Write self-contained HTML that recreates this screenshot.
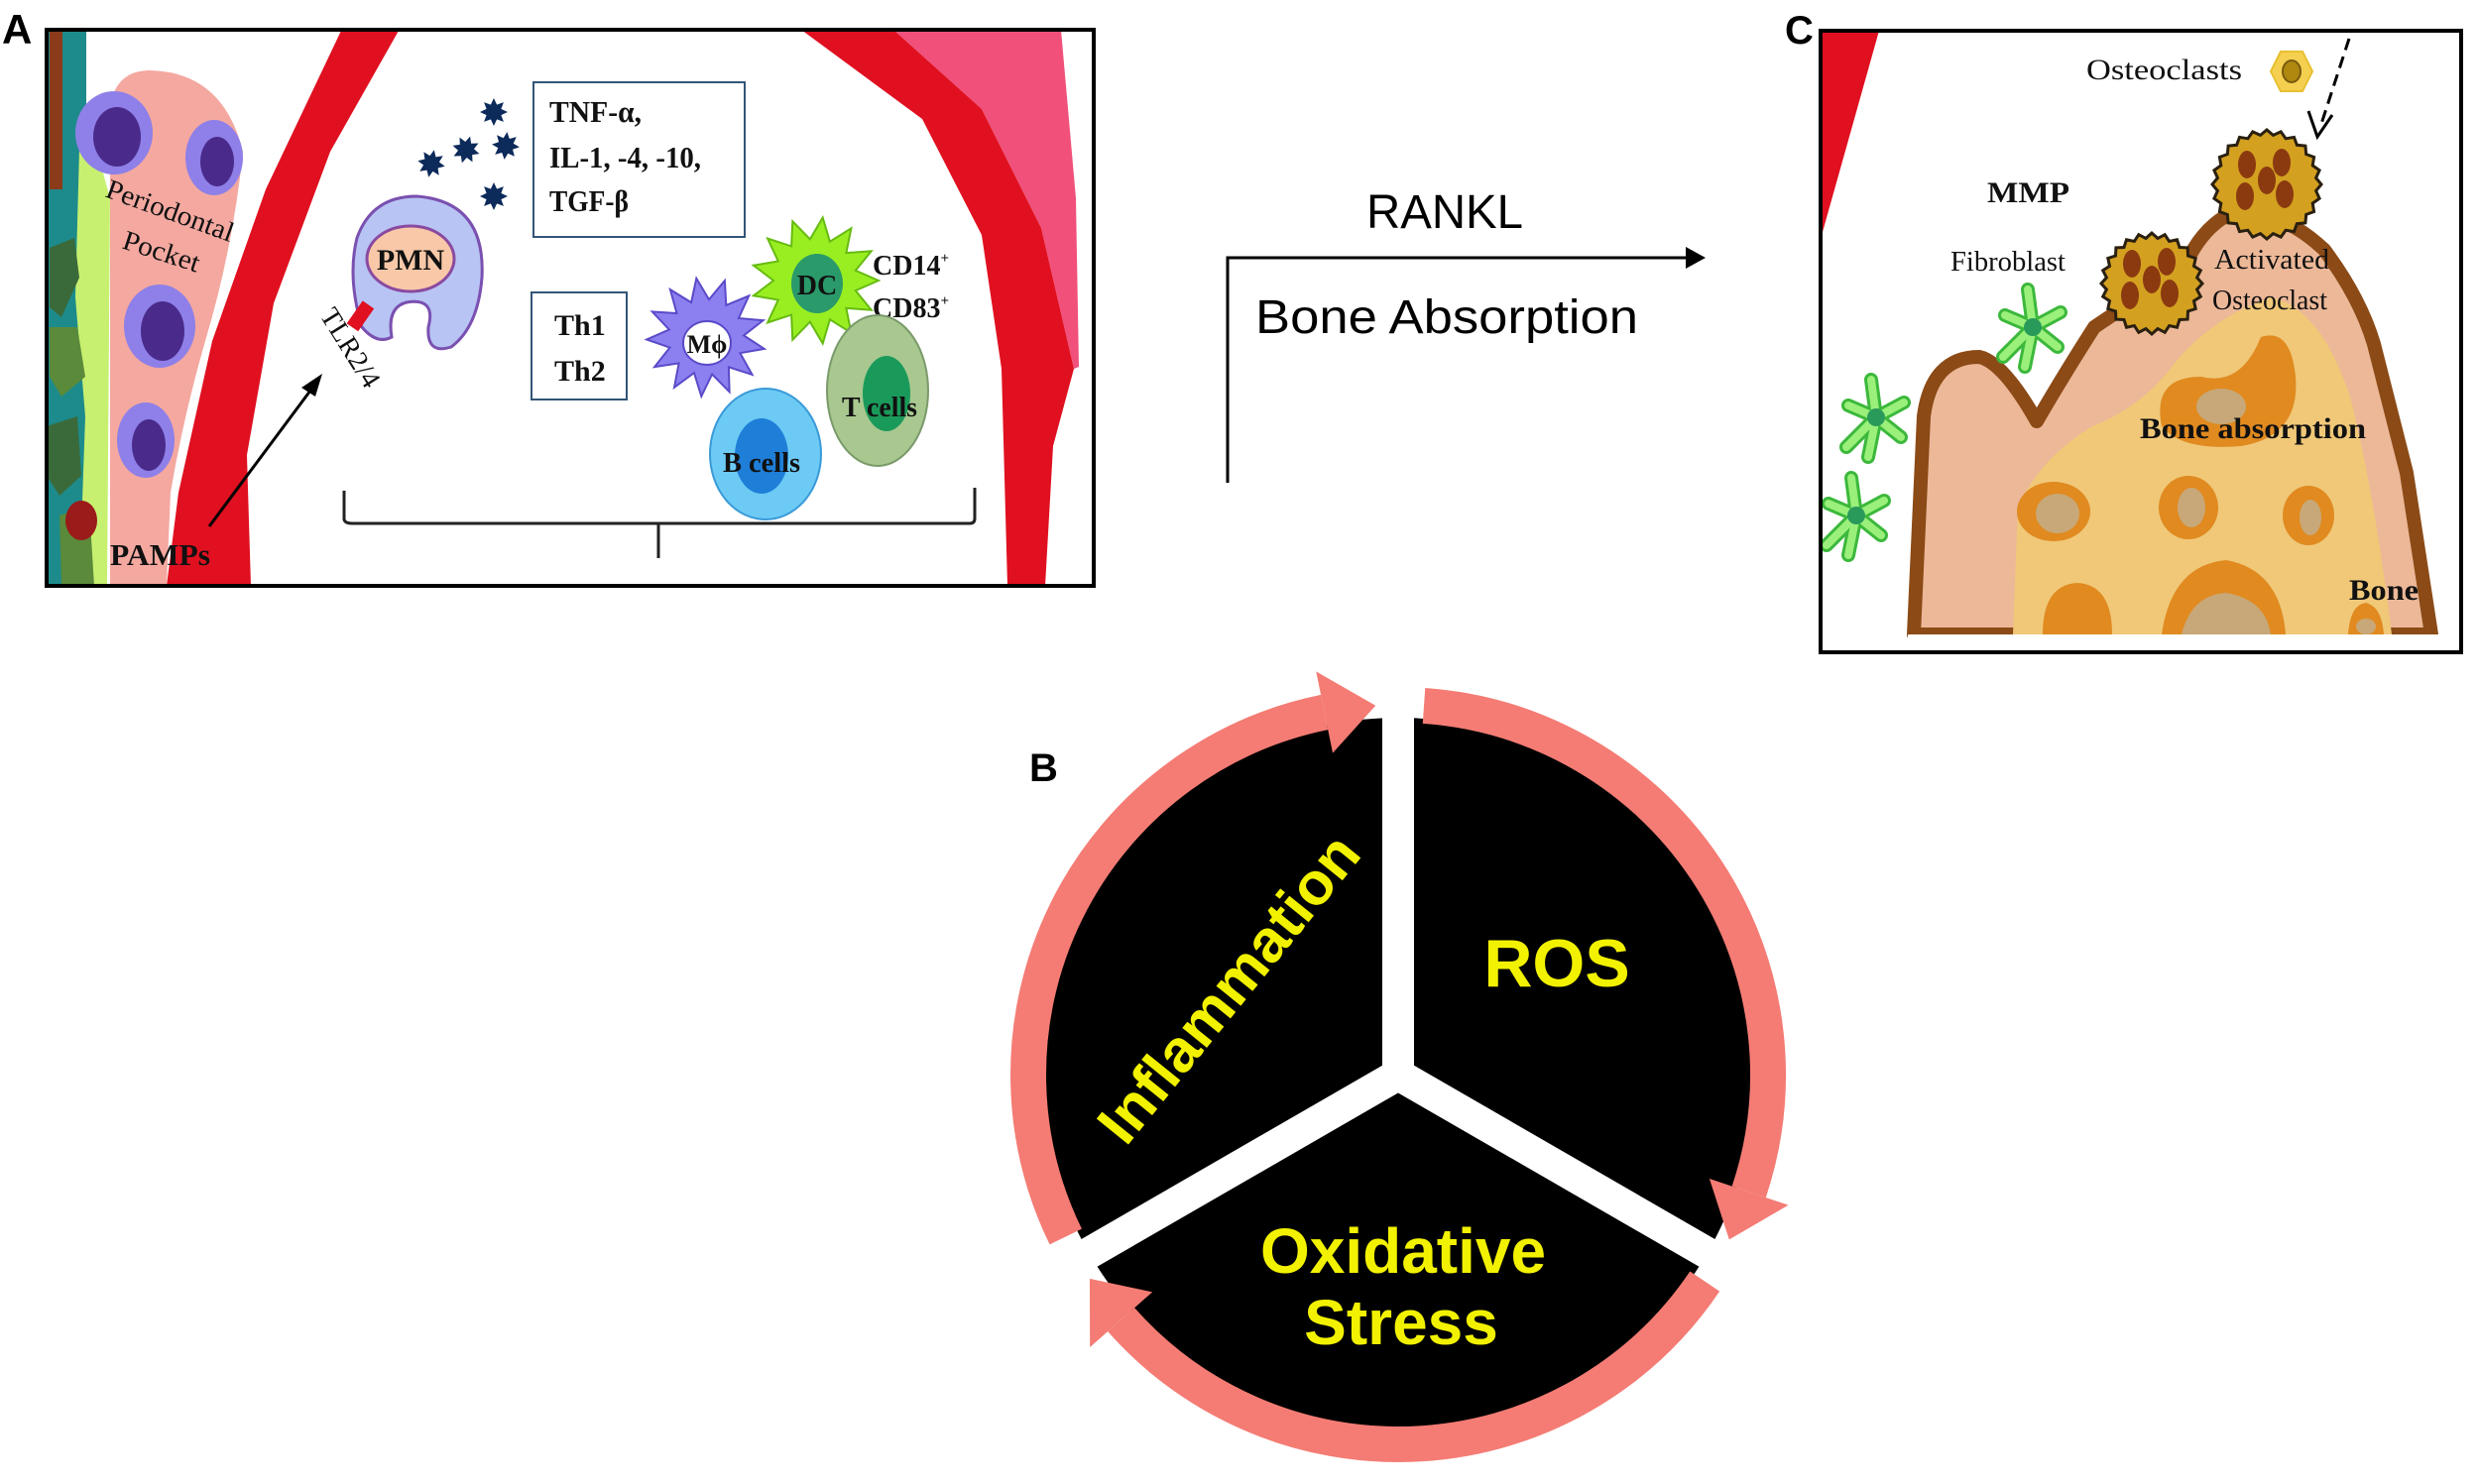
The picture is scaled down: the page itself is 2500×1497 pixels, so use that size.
<!DOCTYPE html>
<html><head><meta charset="utf-8"><style>
html,body{margin:0;padding:0;background:#fff}
svg{display:block}
.s{font-family:"Liberation Serif",serif;font-weight:bold;fill:#111}
.r{font-family:"Liberation Serif",serif;fill:#111}
.a{font-family:"Liberation Sans",sans-serif}
</style></head><body>
<svg id="g" width="2500" height="1497" viewBox="0 0 2500 1497" xmlns="http://www.w3.org/2000/svg">
<rect width="2500" height="1497" fill="#fff"/>
<!-- PANEL A -->
<text x="2" y="44" class="a" font-size="42" font-weight="bold">A</text>
<g>
<rect x="47" y="30" width="1056" height="561" fill="#fff"/>
<rect x="47" y="30" width="40" height="561" fill="#1d8b8b"/>
<polygon points="50,31 63,31 63,191 50,191" fill="#8b3a1a"/>
<polygon points="80,150 100,160 111,200 108,591 80,591 86,420 76,300" fill="#c8f070"/>
<polygon points="50,250 75,240 80,280 62,320 50,310" fill="#3a6a3a"/>
<polygon points="50,330 78,330 86,380 62,400 50,380" fill="#5a8a3a"/>
<polygon points="47,430 78,420 82,480 60,500 47,480" fill="#3a6a3a"/>
<polygon points="60,520 90,510 95,591 62,591" fill="#5a8a3a"/>
<ellipse cx="82" cy="525" rx="16" ry="20" fill="#9b1a1a"/>
<path d="M111,591 L111,110 Q115,72 150,71 Q225,72 245,153 Q235,250 207,344 Q185,420 172,497 L168,591 Z" fill="#f4a8a0"/>
<g fill="#8e80e8"><ellipse cx="115" cy="134" rx="39" ry="42"/><ellipse cx="216" cy="159" rx="29" ry="38"/><ellipse cx="161" cy="329" rx="36" ry="42"/><ellipse cx="147" cy="444" rx="29" ry="38"/></g>
<g fill="#4a2a8a"><ellipse cx="118" cy="138" rx="24" ry="30"/><ellipse cx="219" cy="163" rx="17" ry="25"/><ellipse cx="164" cy="334" rx="22" ry="30"/><ellipse cx="150" cy="449" rx="17" ry="26"/></g>
<text class="r" font-size="28" textLength="135" lengthAdjust="spacingAndGlyphs" transform="translate(105,198) rotate(20)">Periodontal</text>
<text class="r" font-size="28" textLength="80" lengthAdjust="spacingAndGlyphs" transform="translate(122,250) rotate(18)">Pocket</text>
<polygon points="344,31 402,31 333,153 276,306 249,459 253,591 168,591 180,497 214,344 268,191" fill="#e01020"/>
<polygon points="901,30 1070,30 1085,200 1088,370 1083,372 1050,230 990,110" fill="#f0507a"/>
<polygon points="808,30 901,30 990,110 1050,230 1083,372 1062,450 1054,591 1016,591 1010,372 990,237 930,120" fill="#e01020"/>
<rect x="538" y="83" width="213" height="156" fill="#fff" stroke="#335577" stroke-width="2"/>
<text x="554" y="123" class="s" font-size="31" textLength="93" lengthAdjust="spacingAndGlyphs">TNF-α,</text>
<text x="554" y="169" class="s" font-size="31" textLength="153" lengthAdjust="spacingAndGlyphs">IL-1, -4, -10,</text>
<text x="554" y="213" class="s" font-size="31" textLength="80" lengthAdjust="spacingAndGlyphs">TGF-β</text>
<polygon id="st1" fill="#0c2a5a"/><polygon id="st2" fill="#0c2a5a"/><polygon id="st3" fill="#0c2a5a"/><polygon id="st4" fill="#0c2a5a"/><polygon id="st5" fill="#0c2a5a"/>
<path d="M420,198 Q490,203 486,280 Q482,330 455,350 Q430,358 432,330 Q440,300 410,305 Q390,310 395,340 Q380,348 365,330 Q350,280 360,240 Q375,198 420,198 Z" fill="#b8c4f4" stroke="#7a50b0" stroke-width="3"/>
<ellipse cx="414" cy="261" rx="44" ry="33" fill="#f8c8a8" stroke="#8a4aa0" stroke-width="3"/>
<text x="414" y="272" class="s" font-size="30" text-anchor="middle">PMN</text>
<rect x="357" y="305" width="14" height="28" fill="#e01020" transform="rotate(35 364 318)"/>
<text class="r" font-size="28" transform="translate(322,318) rotate(58)">TLR2/4</text>
<line x1="211" y1="531" x2="316" y2="390" stroke="#000" stroke-width="3"/>
<polygon points="325,377 304,391 318,400" fill="#000"/>
<text x="111" y="570" class="s" font-size="31" textLength="101" lengthAdjust="spacingAndGlyphs">PAMPs</text>
<rect x="536" y="295" width="96" height="108" fill="#fff" stroke="#335577" stroke-width="2"/>
<text x="559" y="338" class="s" font-size="30">Th1</text>
<text x="559" y="384" class="s" font-size="30">Th2</text>
<polygon id="mph" fill="#8c80f0" stroke="#5a4ac8" stroke-width="2"/>
<ellipse cx="713" cy="346" rx="24" ry="22" fill="#fff" stroke="#5a4ac8" stroke-width="2"/>
<text x="713" y="356" class="s" font-size="26" text-anchor="middle">Mϕ</text>
<polygon id="dc" fill="#99ee22" stroke="#66bb11" stroke-width="2"/>
<ellipse cx="824" cy="286" rx="26" ry="30" fill="#2a9a6a"/>
<text x="824" y="297" class="s" font-size="28" text-anchor="middle">DC</text>
<text x="880" y="277" class="s" font-size="28">CD14<tspan font-size="15" dy="-12">+</tspan></text>
<text x="880" y="320" class="s" font-size="28">CD83<tspan font-size="15" dy="-12">+</tspan></text>
<ellipse cx="885" cy="394" rx="51" ry="76" fill="#a8c890" stroke="#7a9a6a" stroke-width="2"/>
<ellipse cx="894" cy="397" rx="24" ry="38" fill="#1a9a5a"/>
<text x="887" y="420" class="s" font-size="28" text-anchor="middle" textLength="76" lengthAdjust="spacingAndGlyphs">T cells</text>
<ellipse cx="772" cy="458" rx="56" ry="66" fill="#6ccaf4" stroke="#3a9ad8" stroke-width="2"/>
<ellipse cx="768" cy="460" rx="27" ry="38" fill="#1e7ed8"/>
<text x="768" y="476" class="s" font-size="28" text-anchor="middle" textLength="78" lengthAdjust="spacingAndGlyphs">B cells</text>
<path d="M347,495 L347,524 Q348,528 355,528 L978,528 Q983,528 983,523 L983,492 M664,528 L664,563" fill="none" stroke="#222" stroke-width="3"/>
<rect x="47" y="30" width="1056" height="561" fill="none" stroke="#000" stroke-width="4"/>
</g>
<text x="1457" y="230" class="a" font-size="48" text-anchor="middle" textLength="158" lengthAdjust="spacingAndGlyphs">RANKL</text>
<text x="1266" y="336" class="a" font-size="48" textLength="386" lengthAdjust="spacingAndGlyphs">Bone Absorption</text>
<path d="M1238,487 L1238,260 L1705,260" fill="none" stroke="#000" stroke-width="3"/>
<polygon points="1720,260 1700,249 1700,271" fill="#000"/>
<!-- PANEL C -->
<text x="1800" y="44" class="a" font-size="40" font-weight="bold">C</text>
<rect x="1836" y="31" width="646" height="627" fill="#fff"/>
<polygon points="1838,31 1895,31 1838,234" fill="#e01020"/>
<path d="M1930,640 L1940,420 Q1948,360 1996,360 Q2020,365 2054,425 Q2080,380 2112,330 L2203,269 Q2220,230 2250,215 Q2300,210 2344,252 Q2380,300 2394,347 L2427,477 L2452,640 Z" fill="#ecb898" stroke="#8b4a16" stroke-width="14" stroke-linejoin="round"/>
<path d="M2030,640 L2035,510 Q2060,460 2110,430 Q2160,410 2190,370 Q2230,320 2290,300 Q2340,310 2370,400 Q2395,500 2412,640 Z" fill="#f0c878"/>
<rect x="1924" y="640" width="536" height="18" fill="#fff"/>
<g fill="#e08a20"><ellipse cx="2071" cy="516" rx="37" ry="30"/><ellipse cx="2207" cy="512" rx="30" ry="32"/><ellipse cx="2328" cy="520" rx="26" ry="30"/><path d="M2180,430 Q2170,380 2220,380 Q2260,390 2280,340 Q2310,330 2315,380 Q2320,440 2260,450 Q2200,455 2180,430Z"/><path d="M2060,640 Q2060,590 2095,588 Q2130,590 2130,640Z"/><path d="M2180,640 Q2190,570 2245,565 Q2300,575 2305,640Z"/><path d="M2368,640 Q2370,610 2386,608 Q2402,612 2404,640Z"/></g>
<g fill="#c8a878"><ellipse cx="2075" cy="518" rx="22" ry="20"/><ellipse cx="2210" cy="512" rx="14" ry="20"/><ellipse cx="2330" cy="522" rx="11" ry="18"/><ellipse cx="2240" cy="410" rx="25" ry="18"/><path d="M2200,640 Q2210,600 2245,598 Q2285,605 2290,640Z"/><ellipse cx="2386" cy="632" rx="10" ry="8"/></g>
<g id="osc"></g>
<g id="fib"></g>
<text x="2104" y="80" class="r" font-size="30" textLength="157" lengthAdjust="spacingAndGlyphs">Osteoclasts</text>
<polygon points="2290,72 2300,52 2322,52 2332,72 2322,92 2300,92" fill="#f5d050" stroke="#e8c030" stroke-width="2"/>
<ellipse cx="2311" cy="72" rx="9" ry="11" fill="#b08810" stroke="#7a5a10" stroke-width="2"/>
<line x1="2369" y1="39" x2="2340" y2="128" stroke="#000" stroke-width="3" stroke-dasharray="12,7"/>
<polyline points="2328,112 2337,138 2352,116" fill="none" stroke="#000" stroke-width="3"/>
<text x="2004" y="204" class="s" font-size="30" textLength="83" lengthAdjust="spacingAndGlyphs">MMP</text>
<text x="1967" y="273" class="r" font-size="28" textLength="116" lengthAdjust="spacingAndGlyphs">Fibroblast</text>
<text x="2233" y="271" class="r" font-size="28" textLength="116" lengthAdjust="spacingAndGlyphs">Activated</text>
<text x="2231" y="312" class="r" font-size="28" textLength="116" lengthAdjust="spacingAndGlyphs">Osteoclast</text>
<text x="2158" y="442" class="s" font-size="30" textLength="228" lengthAdjust="spacingAndGlyphs">Bone absorption</text>
<text x="2369" y="605" class="s" font-size="30" textLength="70" lengthAdjust="spacingAndGlyphs">Bone</text>
<rect x="1836" y="31" width="646" height="627" fill="none" stroke="#000" stroke-width="4"/>
<!-- PANEL B -->
<text x="1038" y="788" class="a" font-size="40" font-weight="bold">B</text>
<circle cx="1410" cy="1084" r="360" fill="#000"/>
<g id="ring"></g>
<g stroke="#fff" stroke-width="32" stroke-linecap="butt">
<line x1="1410" y1="1084" x2="1410" y2="680"/>
<line x1="1410" y1="1084" x2="1765" y2="1289"/>
<line x1="1410" y1="1084" x2="1055" y2="1289"/>
</g>
<g class="a" font-weight="bold" fill="#f2f200">
<text x="1570" y="995" font-size="68" text-anchor="middle">ROS</text>
<text x="1415" y="1284" font-size="64" text-anchor="middle">Oxidative</text>
<text x="1413" y="1356" font-size="64" text-anchor="middle">Stress</text>
<text font-size="60" text-anchor="middle" textLength="380" lengthAdjust="spacingAndGlyphs" transform="translate(1255,1010) rotate(-51)">Inflammation</text>
</g>
</svg>
<script>
var NS="http://www.w3.org/2000/svg";
function el(t,a,p){var e=document.createElementNS(NS,t);for(var k in a)e.setAttribute(k,a[k]);(p||document.getElementById('g')).appendChild(e);return e;}
function star(id,cx,cy,ro,ri,n,rotd){var p=[];for(var i=0;i<2*n;i++){var r=i%2?ri:ro;var a=(i*Math.PI/n)+rotd;p.push((cx+r*Math.cos(a)).toFixed(1)+","+(cy+r*Math.sin(a)).toFixed(1));}document.getElementById(id).setAttribute('points',p.join(' '));}
star('mph',712,340,60,38,13,0.2);star('dc',822,283,64,42,13,0);
star('st1',498,113,14,8,8,0);star('st2',470,151,14,8,8,0.3);star('st3',510,147,14,8,8,0.1);star('st4',435,165,14,8,8,0.2);star('st5',498,198,14,8,8,0);
var C=[1410,1084],R=373,W=36,ring=document.getElementById('ring');
function pt(a,r){a=a*Math.PI/180;return [C[0]+r*Math.cos(a),C[1]+r*Math.sin(a)];}
[[150,270],[270,390],[30,150]].forEach(function(s){
 var a0=s[0]+4,a1=s[1]-3.5,ah=a1-8;
 var p0=pt(a0,R),p1=pt(ah,R);
 el('path',{d:'M'+p0[0]+','+p0[1]+' A'+R+','+R+' 0 0 1 '+p1[0]+','+p1[1],fill:'none',stroke:'#f47c74','stroke-width':W},ring);
 var o=pt(ah,R+42),i=pt(ah,R-42),t=pt(a1,R);
 el('polygon',{points:o.join(',')+' '+t.join(',')+' '+i.join(','),fill:'#f47c74'},ring);
});
var osc=document.getElementById('osc');
[[2286,186,50],[2170,286,46]].forEach(function(c){
 var d='';for(var i=0;i<=48;i++){var a=i*Math.PI/24;var r=c[2]+(i%2?0:5);d+=(i?'L':'M')+(c[0]+r*Math.cos(a)).toFixed(1)+','+(c[1]+r*Math.sin(a)).toFixed(1);}
 el('path',{d:d+'Z',fill:'#d4a020',stroke:'#2a2010','stroke-width':3},osc);
 [[-20,-20],[15,-22],[-22,12],[18,10],[0,-4]].forEach(function(o){el('ellipse',{cx:c[0]+o[0],cy:c[1]+o[1],rx:9,ry:14,fill:'#8b3a10'},osc);});
});
var fib=document.getElementById('fib');
[[2050,330],[1892,421],[1872,520]].forEach(function(f){
 var arms=[[-5,-38],[28,-15],[25,20],[-8,40],[-30,30],[-28,-12]];
 arms.forEach(function(o){el('line',{x1:f[0],y1:f[1],x2:f[0]+o[0],y2:f[1]+o[1],stroke:'#3cb83c','stroke-width':14,'stroke-linecap':'round'},fib);});
 arms.forEach(function(o){el('line',{x1:f[0],y1:f[1],x2:f[0]+o[0],y2:f[1]+o[1],stroke:'#9af07a','stroke-width':8,'stroke-linecap':'round'},fib);});
 el('circle',{cx:f[0],cy:f[1],r:9,fill:'#2a9a5a'},fib);
});
</script>
</body></html>
